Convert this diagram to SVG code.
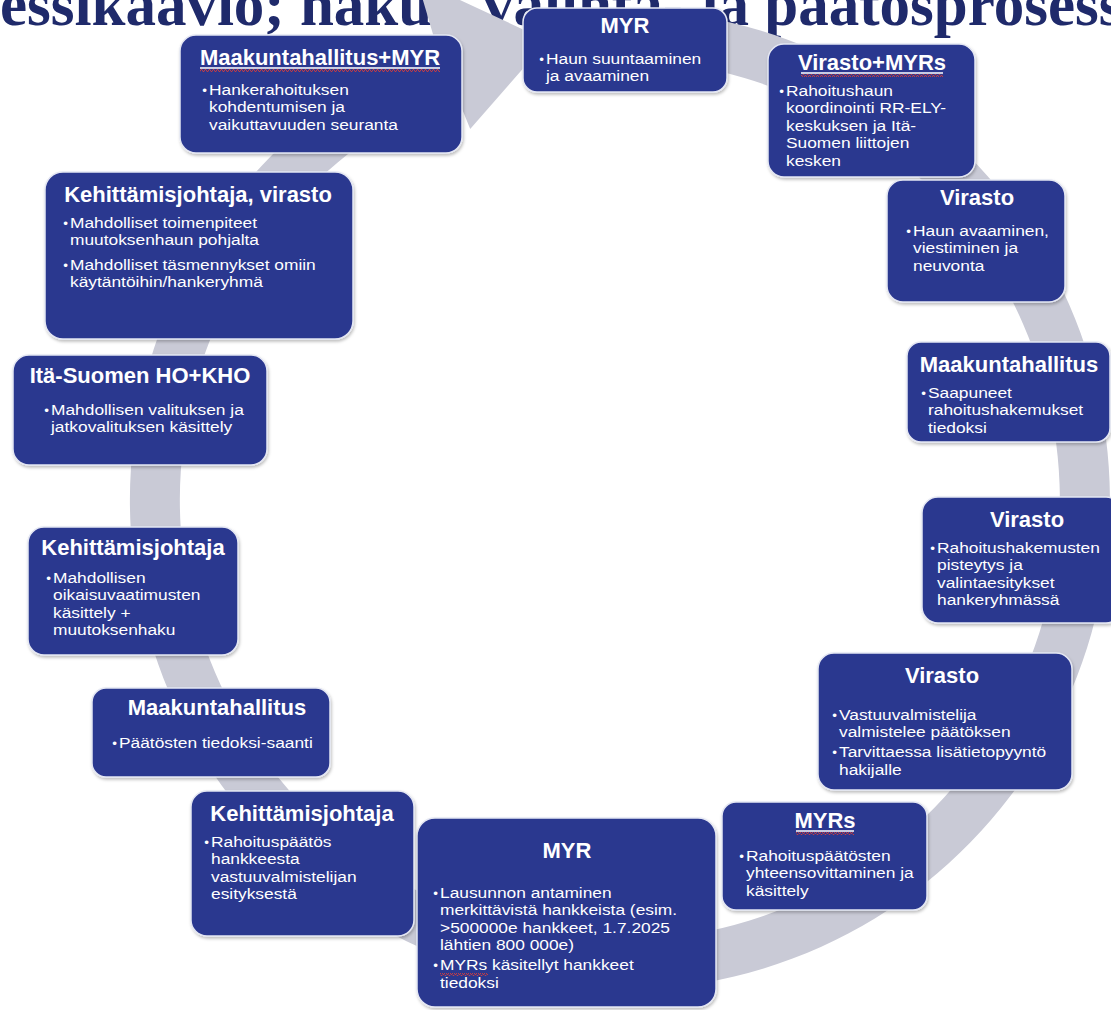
<svg xmlns="http://www.w3.org/2000/svg" width="1111" height="1010" viewBox="0 0 1111 1010">
<style>
.box{fill:#2b378f;stroke:#e4e7f3;stroke-width:1.5;filter:url(#sh)}
.h{font-family:"Liberation Sans",Arial,sans-serif;font-weight:bold;font-size:22px;fill:#fff;text-anchor:middle}
.t{font-family:"Liberation Sans",Arial,sans-serif;font-size:15.5px;fill:#fff}
.b{font-size:12px}
.ul{stroke:#fff;stroke-width:1.5}
.title{font-family:"Liberation Serif","Times New Roman",serif;font-weight:bold;font-size:61px;fill:#1f2a6b}
</style>
<defs>
<pattern id="sq" width="4" height="3" patternUnits="userSpaceOnUse">
<path d="M0 2.5 L1 0.5 L2 0.5 L3 2.5 L4 2.5" fill="none" stroke="#d23c3c" stroke-width="0.9"/>
</pattern>
<filter id="sh" x="-10%" y="-10%" width="120%" height="125%">
<feDropShadow dx="1" dy="2" stdDeviation="1.5" flood-color="#000" flood-opacity="0.25"/>
</filter>
</defs>
<rect width="1111" height="1010" fill="#fff"/>
<text class="title" x="0" y="25">essikaavio; haku-, valinta- ja päätösprosess</text>
<g id="connectors">
<path d="M577.3 11.9 A490 490 0 1 1 436.4 45.7 L417 -20 L547.3 40.7 L470.2 129.1 L455.2 92 A440 440 0 1 0 581.6 61.7 Z" fill="#c9cad6"/>
</g>
<g id="n1">
<rect class="box" x="523" y="8" width="204" height="84" rx="14"/>
<text class="h" x="625" y="33">MYR</text>
<text class="t" transform="translate(546 64) scale(1.12 1)"><tspan class="b" x="-6" y="0">•</tspan><tspan x="0" y="0">Haun suuntaaminen</tspan><tspan x="0" y="17.5">ja avaaminen</tspan></text>
</g>
<g id="n2">
<rect class="box" x="768" y="44" width="207" height="133" rx="16"/>
<text class="h" x="872" y="70">Virasto+MYRs</text>
<line class="ul" x1="801" y1="73" x2="943" y2="73"/>
<rect x="801" y="74" width="142" height="3" fill="url(#sq)"/>
<text class="t" transform="translate(786 96) scale(1.12 1)"><tspan class="b" x="-6" y="0">•</tspan><tspan x="0" y="0">Rahoitushaun</tspan><tspan x="0" y="17.5">koordinointi RR-ELY-</tspan><tspan x="0" y="35">keskuksen ja Itä-</tspan><tspan x="0" y="52.5">Suomen liittojen</tspan><tspan x="0" y="70">kesken</tspan></text>
</g>
<g id="n3">
<rect class="box" x="887" y="180" width="178" height="122" rx="16"/>
<text class="h" x="977" y="205">Virasto</text>
<text class="t" transform="translate(913 236) scale(1.12 1)"><tspan class="b" x="-6" y="0">•</tspan><tspan x="0" y="0">Haun avaaminen,</tspan><tspan x="0" y="17.5">viestiminen ja</tspan><tspan x="0" y="35">neuvonta</tspan></text>
</g>
<g id="n4">
<rect class="box" x="907" y="342" width="203" height="100" rx="14"/>
<text class="h" x="1009" y="372">Maakuntahallitus</text>
<text class="t" transform="translate(928 398) scale(1.12 1)"><tspan class="b" x="-6" y="0">•</tspan><tspan x="0" y="0">Saapuneet</tspan><tspan x="0" y="17.5">rahoitushakemukset</tspan><tspan x="0" y="35">tiedoksi</tspan></text>
</g>
<g id="n5">
<rect class="box" x="922" y="497" width="200" height="126" rx="16"/>
<text class="h" x="1027" y="527">Virasto</text>
<text class="t" transform="translate(937 553) scale(1.12 1)"><tspan class="b" x="-6" y="0">•</tspan><tspan x="0" y="0">Rahoitushakemusten</tspan><tspan x="0" y="17.5">pisteytys ja</tspan><tspan x="0" y="35">valintaesitykset</tspan><tspan x="0" y="52.5">hankeryhmässä</tspan></text>
</g>
<g id="n6">
<rect class="box" x="818" y="653" width="254" height="137" rx="16"/>
<text class="h" x="942" y="683">Virasto</text>
<text class="t" transform="translate(839 720) scale(1.12 1)"><tspan class="b" x="-6" y="0">•</tspan><tspan x="0" y="0">Vastuuvalmistelija</tspan><tspan x="0" y="17.5">valmistelee päätöksen</tspan><tspan class="b" x="-6" y="37.5">•</tspan><tspan x="0" y="37.5">Tarvittaessa lisätietopyyntö</tspan><tspan x="0" y="55">hakijalle</tspan></text>
</g>
<g id="n7">
<rect class="box" x="722" y="802" width="205" height="108" rx="14"/>
<text class="h" x="825" y="828">MYRs</text>
<line class="ul" x1="796" y1="831" x2="854" y2="831"/>
<rect x="796" y="832" width="58" height="3" fill="url(#sq)"/>
<text class="t" transform="translate(746 861) scale(1.12 1)"><tspan class="b" x="-6" y="0">•</tspan><tspan x="0" y="0">Rahoituspäätösten</tspan><tspan x="0" y="17.5">yhteensovittaminen ja</tspan><tspan x="0" y="35">käsittely</tspan></text>
</g>
<g id="n8">
<rect class="box" x="417" y="818" width="299" height="189" rx="18"/>
<text class="h" x="567" y="858">MYR</text>
<rect x="440" y="973" width="48" height="3" fill="url(#sq)"/>
<text class="t" transform="translate(440 898) scale(1.12 1)"><tspan class="b" x="-6" y="0">•</tspan><tspan x="0" y="0">Lausunnon antaminen</tspan><tspan x="0" y="17.5">merkittävistä hankkeista (esim.</tspan><tspan x="0" y="35">&gt;500000e hankkeet, 1.7.2025</tspan><tspan x="0" y="52.5">lähtien 800 000e)</tspan><tspan class="b" x="-6" y="72.5">•</tspan><tspan x="0" y="72.5">MYRs käsitellyt hankkeet</tspan><tspan x="0" y="90">tiedoksi</tspan></text>
</g>
<g id="n9">
<rect class="box" x="191" y="791" width="223" height="145" rx="16"/>
<text class="h" x="302" y="821">Kehittämisjohtaja</text>
<text class="t" transform="translate(211 847) scale(1.12 1)"><tspan class="b" x="-6" y="0">•</tspan><tspan x="0" y="0">Rahoituspäätös</tspan><tspan x="0" y="17.5">hankkeesta</tspan><tspan x="0" y="35">vastuuvalmistelijan</tspan><tspan x="0" y="52.5">esityksestä</tspan></text>
</g>
<g id="n10">
<rect class="box" x="92" y="688" width="238" height="89" rx="14"/>
<text class="h" x="217" y="715">Maakuntahallitus</text>
<text class="t" transform="translate(119 748) scale(1.12 1)"><tspan class="b" x="-6" y="0">•</tspan><tspan x="0" y="0">Päätösten tiedoksi-saanti</tspan></text>
</g>
<g id="n11">
<rect class="box" x="28" y="527" width="210" height="128" rx="16"/>
<text class="h" x="133" y="555">Kehittämisjohtaja</text>
<text class="t" transform="translate(53 583) scale(1.12 1)"><tspan class="b" x="-6" y="0">•</tspan><tspan x="0" y="0">Mahdollisen</tspan><tspan x="0" y="17.5">oikaisuvaatimusten</tspan><tspan x="0" y="35">käsittely +</tspan><tspan x="0" y="52.5">muutoksenhaku</tspan></text>
</g>
<g id="n12">
<rect class="box" x="13" y="355" width="254" height="110" rx="16"/>
<text class="h" x="140" y="383">Itä-Suomen HO+KHO</text>
<text class="t" transform="translate(51 415) scale(1.12 1)"><tspan class="b" x="-6" y="0">•</tspan><tspan x="0" y="0">Mahdollisen valituksen ja</tspan><tspan x="0" y="17.5">jatkovalituksen käsittely</tspan></text>
</g>
<g id="n13">
<rect class="box" x="45" y="172" width="308" height="167" rx="18"/>
<text class="h" x="198" y="202">Kehittämisjohtaja, virasto</text>
<text class="t" transform="translate(70 228) scale(1.12 1)"><tspan class="b" x="-6" y="0">•</tspan><tspan x="0" y="0">Mahdolliset toimenpiteet</tspan><tspan x="0" y="17.5">muutoksenhaun pohjalta</tspan><tspan class="b" x="-6" y="42">•</tspan><tspan x="0" y="42">Mahdolliset täsmennykset omiin</tspan><tspan x="0" y="59.5">käytäntöihin/hankeryhmä</tspan></text>
</g>
<g id="n14">
<rect class="box" x="180" y="35" width="282" height="118" rx="16"/>
<text class="h" x="320" y="65">Maakuntahallitus+MYR</text>
<line class="ul" x1="200" y1="68" x2="440" y2="68"/>
<rect x="200" y="69" width="240" height="3" fill="url(#sq)"/>
<text class="t" transform="translate(209 95) scale(1.12 1)"><tspan class="b" x="-6" y="0">•</tspan><tspan x="0" y="0">Hankerahoituksen</tspan><tspan x="0" y="17.5">kohdentumisen ja</tspan><tspan x="0" y="35">vaikuttavuuden seuranta</tspan></text>
</g>
</svg>
